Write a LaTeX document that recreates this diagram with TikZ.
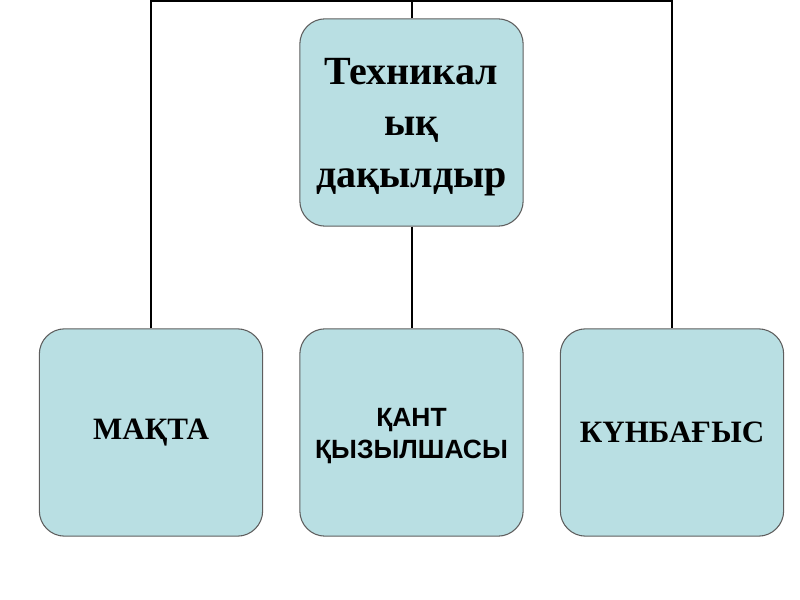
\documentclass[tikz,border=0pt]{standalone}
\usepackage{fontspec}
\setmainfont{Liberation Serif}
\newfontfamily\arialfont{Liberation Sans}
\definecolor{boxfill}{HTML}{B9DFE3}
\definecolor{boxdraw}{HTML}{5E5E5E}
\newcommand{\lowertext}[2]{\raisebox{-#1}[\height][\depth]{\begin{tabular}{@{}c@{}}#2\end{tabular}}}
\begin{document}
\begin{tikzpicture}[x=0.75pt,y=-0.75pt,
  box/.style={draw=boxdraw,line width=0.8pt,fill=boxfill,rounded corners=19pt,
    minimum width=167.5pt,minimum height=155.5pt,inner sep=0pt,align=center},
  conn/.style={line width=1.5pt,black}]
\useasboundingbox (0,0) rectangle (800,600);
\node[box,font=\fontsize{30}{38.5}\selectfont\bfseries] (top) at (411.5,122.5) {\lowertext{2.25pt}{Техникал\\ық\\дақылдыр}};
\node[box,font=\fontsize{23.3}{27}\selectfont\bfseries] (lb) at (151,432.5) {МАҚТА};
\node[box,font=\arialfont\fontsize{19.8}{23.5}\selectfont\bfseries] (mb) at (411.5,432.5) {\lowertext{2.7pt}{ҚАНТ\\ҚЫЗЫЛШАСЫ}};
\node[box,font=\fontsize{23.3}{27}\selectfont\bfseries] (rb) at (672,432.5) {КҮНБАҒЫС};
\coordinate (tl) at (152,1);
\draw[conn] (lb.north) -- (lb.north |- tl) -- (rb.north |- tl) -- (rb.north);
\draw[conn] (top.north) -- (top.north |- tl);
\draw[conn] (top.south) -- (mb.north);
\end{tikzpicture}
\end{document}
